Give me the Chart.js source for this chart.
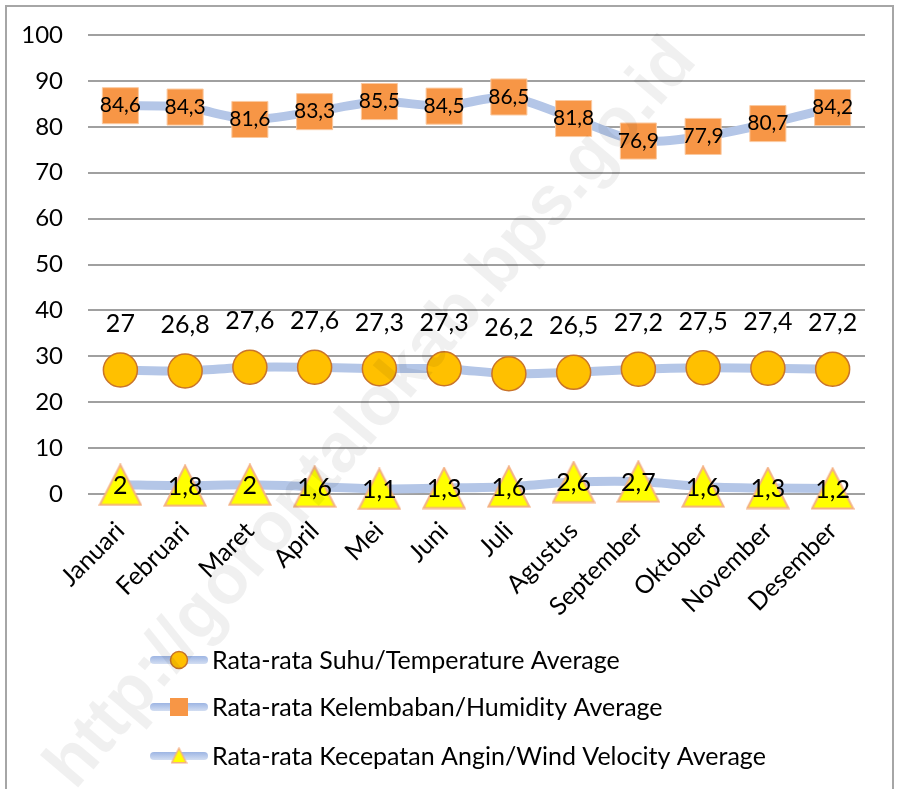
<!DOCTYPE html>
<html>
<head>
<meta charset="utf-8">
<script src="https://cdn.jsdelivr.net/npm/chart.js@4"></script>
<style>
  html, body { margin: 0; padding: 0; background: #fff; }
  #wrap { position: relative; width: 898px; height: 789px; }
  canvas { display: block; }
</style>
</head>
<body>
<div id="wrap"><canvas id="c" width="898" height="789"></canvas></div>
<script>
const months = ['Januari','Februari','Maret','April','Mei','Juni','Juli','Agustus','September','Oktober','November','Desember'];
const temperature = [27, 26.8, 27.6, 27.6, 27.3, 27.3, 26.2, 26.5, 27.2, 27.5, 27.4, 27.2];
const humidity = [84.6, 84.3, 81.6, 83.3, 85.5, 84.5, 86.5, 81.8, 76.9, 77.9, 80.7, 84.2];
const wind = [2, 1.8, 2, 1.6, 1.1, 1.3, 1.6, 2.6, 2.7, 1.6, 1.3, 1.2];
const seriesNames = [
  'Rata-rata Suhu/Temperature Average',
  'Rata-rata Kelembaban/Humidity Average',
  'Rata-rata Kecepatan Angin/Wind Velocity Average'
];
const watermarkText = 'http://gorontalokab.bps.go.id';

const FONT = "Lato, 'Open Sans', sans-serif";
const LINE_BLUE = '#B4C6E7';

function makeTriangle(w, h, lw) {
  const c = document.createElement('canvas');
  c.width = w; c.height = h;
  const g = c.getContext('2d');
  const p = lw / 2 + 0.5;
  g.beginPath();
  g.moveTo(w / 2, p);
  g.lineTo(w - p, h - p);
  g.lineTo(p, h - p);
  g.closePath();
  g.fillStyle = '#FFFF00';
  g.fill();
  g.lineWidth = lw;
  g.strokeStyle = '#F4B183';
  g.stroke();
  return c;
}
const triBig = makeTriangle(44, 43, 2);
const triSmall = makeTriangle(17, 17, 1.5);

const fmt = v => String(v).replace('.', ',');

const labelsPlugin = {
  id: 'valueLabels',
  afterDatasetsDraw(chart) {
    const ctx = chart.ctx;
    const cfg = [
      { font: '25px ' + FONT, dy: -46 },
      { font: '21px ' + FONT, dy: 0 },
      { font: '25px ' + FONT, dy: 1 }
    ];
    ctx.save();
    ctx.fillStyle = '#000';
    ctx.textAlign = 'center';
    ctx.textBaseline = 'middle';
    chart.data.datasets.forEach((ds, i) => {
      const meta = chart.getDatasetMeta(i);
      ctx.font = cfg[i].font;
      meta.data.forEach((pt, j) => {
        ctx.fillText(fmt(ds.data[j]), pt.x, pt.y + cfg[i].dy);
      });
    });
    ctx.restore();
  }
};

const framePlugin = {
  id: 'frame',
  beforeDraw(chart) {
    const ctx = chart.ctx;
    ctx.save();
    ctx.fillStyle = '#fff';
    ctx.fillRect(0, 0, chart.width, chart.height);
    ctx.strokeStyle = '#A6A6A6';
    ctx.lineWidth = 2;
    ctx.strokeRect(6, 6, 887, 800);
    ctx.restore();
  }
};

const legendPlugin = {
  id: 'customLegend',
  afterDraw(chart) {
    const ctx = chart.ctx;
    const rows = [660, 707, 756];
    const x0 = 150, x1 = 208, mx = 179, tx = 212;
    ctx.save();
    rows.forEach((y, i) => {
      const grad = ctx.createLinearGradient(0, y - 4, 0, y + 4);
      grad.addColorStop(0, '#9DB5E3');
      grad.addColorStop(1, '#D3DEF2');
      ctx.strokeStyle = grad;
      ctx.lineWidth = 8;
      ctx.lineCap = 'round';
      ctx.beginPath();
      ctx.moveTo(x0 + 4, y);
      ctx.lineTo(x1 - 4, y);
      ctx.stroke();
      if (i === 0) {
        ctx.beginPath();
        ctx.arc(mx, y, 8.5, 0, Math.PI * 2);
        ctx.fillStyle = '#FFC000';
        ctx.fill();
        ctx.lineWidth = 1.5;
        ctx.strokeStyle = '#C9742A';
        ctx.stroke();
      } else if (i === 1) {
        ctx.fillStyle = '#F79646';
        ctx.fillRect(mx - 9, y - 9, 18, 18);
      } else {
        ctx.drawImage(triSmall, mx - 8.5, y - 9);
      }
      ctx.fillStyle = '#000';
      ctx.font = '25px ' + FONT;
      ctx.textAlign = 'left';
      ctx.textBaseline = 'middle';
      ctx.fillText(seriesNames[i], tx, y + 1);
    });
    ctx.restore();
  }
};

const watermarkPlugin = {
  id: 'watermark',
  afterDraw(chart) {
    const ctx = chart.ctx;
    ctx.save();
    ctx.translate(372, 414);
    ctx.rotate(-49.5 * Math.PI / 180);
    ctx.font = "bold 68px 'Liberation Sans', Arial, sans-serif";
    const w = ctx.measureText(watermarkText).width;
    const s = 960 / w;
    ctx.font = "bold " + (68 * s).toFixed(1) + "px 'Liberation Sans', Arial, sans-serif";
    ctx.fillStyle = 'rgba(0,0,0,0.06)';
    ctx.textAlign = 'center';
    ctx.textBaseline = 'middle';
    ctx.fillText(watermarkText, 0, 0);
    ctx.restore();
  }
};

new Chart(document.getElementById('c'), {
  type: 'line',
  data: {
    labels: months,
    datasets: [
      {
        label: seriesNames[0],
        data: temperature,
        clip: false,
        borderColor: LINE_BLUE,
        borderWidth: 9,
        tension: 0.25,
        pointStyle: 'circle',
        pointRadius: 17,
        pointBackgroundColor: '#FFC000',
        pointBorderColor: '#C9742A',
        pointBorderWidth: 1.5
      },
      {
        label: seriesNames[1],
        data: humidity,
        clip: false,
        borderColor: LINE_BLUE,
        borderWidth: 9,
        tension: 0.25,
        pointStyle: 'rect',
        pointRadius: 25.5,
        pointBackgroundColor: '#F79646',
        pointBorderColor: '#FAC9A0',
        pointBorderWidth: 1
      },
      {
        label: seriesNames[2],
        data: wind,
        clip: false,
        borderColor: LINE_BLUE,
        borderWidth: 9,
        tension: 0.25,
        pointStyle: triBig,
        pointRadius: 22
      }
    ]
  },
  options: {
    responsive: false,
    devicePixelRatio: 1,
    animation: false,
    events: [],
    layout: { padding: { left: 10, right: 33, top: 35, bottom: 155 } },
    plugins: {
      legend: { display: false },
      tooltip: { enabled: false },
      title: { display: false }
    },
    scales: {
      x: {
        offset: true,
        grid: { display: false },
        border: { display: false },
        ticks: {
          color: '#000',
          font: { family: FONT, size: 25 },
          maxRotation: 45,
          minRotation: 45,
          padding: 14,
          autoSkip: false
        },
        afterFit(s) { s.height = 140; s.paddingLeft = 0; s.paddingRight = 0; }
      },
      y: {
        min: 0,
        max: 100,
        grid: { color: '#A0A0A0', lineWidth: 2, drawTicks: false },
        border: { display: false },
        ticks: {
          stepSize: 10,
          color: '#000',
          font: { family: FONT, size: 24 },
          padding: 25
        },
        afterFit(s) { s.width = 78; s.paddingTop = 0; s.paddingBottom = 0; }
      }
    }
  },
  plugins: [framePlugin, labelsPlugin, legendPlugin, watermarkPlugin]
});
</script>
</body>
</html>
